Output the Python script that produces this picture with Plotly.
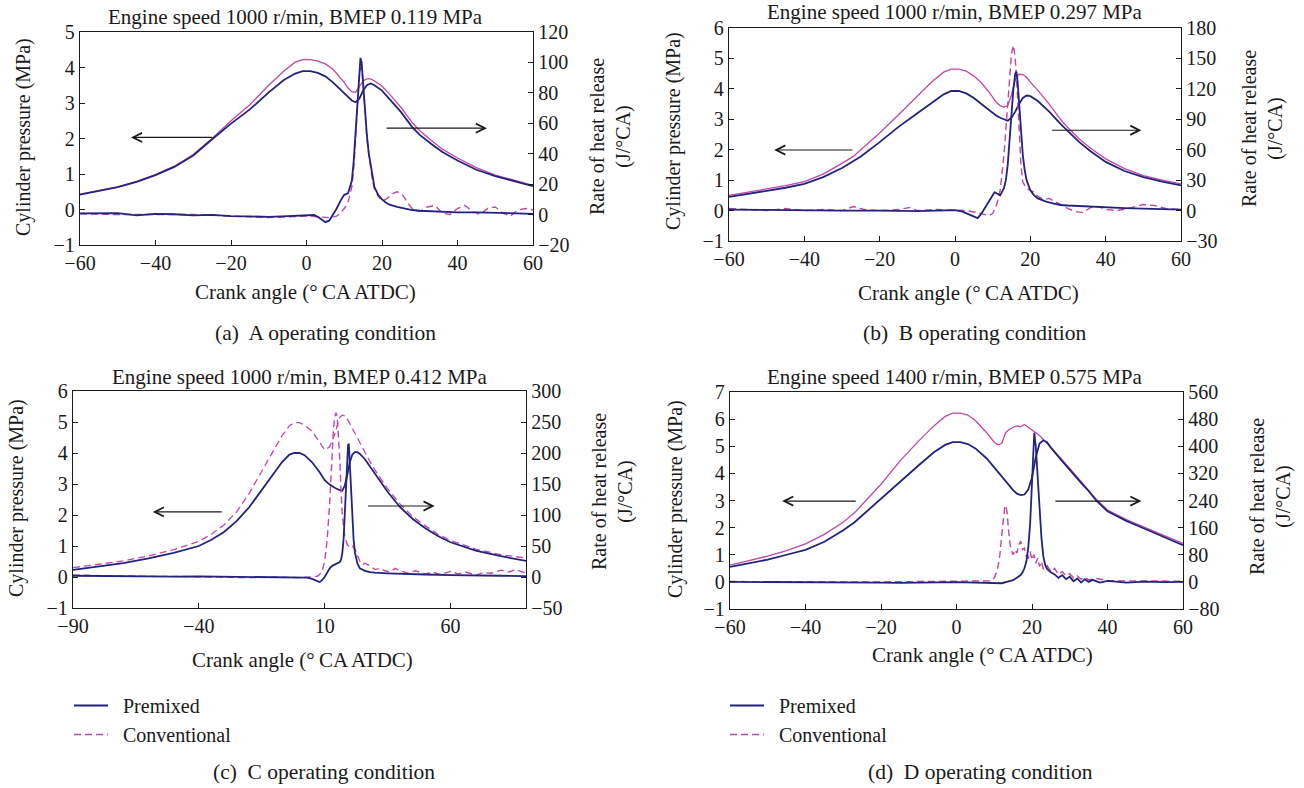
import plotly.graph_objects as go

# ---------------- Panel A : 1000 r/min, BMEP 0.119 MPa ----------------
A_p_x = [-60,-55,-50,-45,-40,-35,-30,-25,-20,-15,-10,-6,-3,-1,1,3,5,7,9,10,11,12,13,14,15,16,17,18,20,22,25,28,30,33,36,40,45,50,55,60]
A_p_prem = [0.42,0.52,0.63,0.78,0.97,1.2,1.52,1.98,2.42,2.82,3.3,3.65,3.83,3.9,3.9,3.85,3.75,3.58,3.37,3.27,3.16,3.07,3.02,3.12,3.35,3.5,3.55,3.5,3.35,3.12,2.75,2.32,2.1,1.85,1.62,1.38,1.12,0.94,0.8,0.66]
A_p_conv = [0.43,0.53,0.64,0.79,0.98,1.22,1.55,2.0,2.5,2.95,3.5,3.9,4.15,4.22,4.22,4.18,4.1,3.95,3.7,3.58,3.42,3.32,3.3,3.45,3.62,3.68,3.68,3.62,3.48,3.25,2.88,2.45,2.22,1.95,1.7,1.45,1.18,0.97,0.82,0.68]
A_h_prem_x = [-60,-50,-45,-40,-35,-30,-25,-20,-15,-10,-5,-2,0,2,3,4,5,6,7,8,9,10,11,12,12.5,13,13.5,14,14.3,14.6,15,15.5,16,16.5,17,17.5,18,19,20,21,22,24,26,28,30,35,40,45,50,55,60]
A_h_prem = [0.8,1.0,-0.5,0.5,0.2,-0.5,-0.2,-1.0,-1.2,-1.5,-1.0,-0.8,-0.5,-0.3,-1.5,-3.5,-5.0,-4.0,0,4,9,13,14,22,35,55,78,98,103,100,86,68,52,40,32,24,18,13,10,8,6.5,5,4,3,2.5,2,1.5,1.5,1.2,1,0.5]
A_h_conv_x = [-60,-50,-40,-30,-20,-15,-10,-5,0,3,6,8,9,10,11,12,12.5,13,13.5,14,14.4,14.8,15.2,15.6,16,16.5,17,17.5,18,19,20,21,22,23,24,25,26,27,28,30,32,34,36,38,40,42,44,46,48,50,52,54,56,58,60]
A_h_conv = [0.5,0,0,0,-1,-1.5,-2,-1.5,-1,-1.5,-2,-1,1,4,8,18,30,50,75,92,97,92,78,62,50,40,30,22,17,12,9,10,12,14,15,14,11,7,4,2,5,6,1,0,4,6,2,0,4,5,1,-1,3,4,3]

# ---------------- Panel B : 1000 r/min, BMEP 0.297 MPa ----------------
B_p_x = [-60,-55,-50,-45,-40,-35,-30,-27,-25,-20,-15,-10,-6,-3,-1,1,3,5,7,9,11,12,13,14,15,16,17,18,19,20,22,25,28,30,33,36,40,45,50,55,60]
B_p_prem = [0.45,0.55,0.65,0.75,0.88,1.1,1.4,1.62,1.78,2.25,2.75,3.2,3.55,3.82,3.93,3.93,3.85,3.7,3.5,3.3,3.12,3.05,3.0,2.95,3.05,3.25,3.5,3.7,3.78,3.76,3.6,3.25,2.85,2.6,2.25,1.95,1.6,1.3,1.1,0.95,0.83]
B_p_conv = [0.5,0.6,0.72,0.82,0.95,1.2,1.55,1.78,2.0,2.55,3.15,3.75,4.25,4.55,4.65,4.65,4.58,4.42,4.2,3.9,3.55,3.45,3.4,3.45,3.8,4.3,4.48,4.47,4.38,4.22,3.95,3.5,3.0,2.72,2.35,2.05,1.7,1.38,1.15,1.0,0.88]
B_h_prem_x = [-60,-50,-40,-30,-20,-10,-5,0,2,4,5,6,7,8,9,10,10.5,11,12,13,13.5,14,14.5,15,15.5,16,16.3,16.6,17,17.5,18,18.5,19,20,21,22,24,26,28,30,35,40,45,50,55,60]
B_h_prem = [1,0.5,0,0,0,-0.5,0,0.5,-1,-4,-6,-7.5,-3,3,9,16,18,17,15,22,30,45,70,95,120,135,137,128,105,78,55,40,30,20,15,12,9,7,5.5,5,4,3,2.5,2,1.5,1]
B_h_conv_x = [-60,-55,-50,-45,-40,-35,-30,-27,-24,-20,-15,-12,-10,-5,0,3,6,8,9,10,11,12,12.5,13,13.5,14,14.5,15,15.5,16,16.5,17,17.5,18,19,20,21,22,23,24,25,26,28,30,32,34,36,38,40,43,46,50,53,56,60]
B_h_conv = [2,1,0,2,0,1,0,4,1,0,1,3,0,1,0,0,-2,-4,-5,-3,5,20,35,55,80,108,135,155,163,150,120,80,45,28,22,20,18,14,12,11,12,10,6,2,-1,-2,3,4,1,0,2,6,5,2,1]

# ---------------- Panel C : 1000 r/min, BMEP 0.412 MPa ----------------
C_p_x = [-90,-80,-70,-60,-50,-40,-35,-30,-25,-20,-15,-10,-7,-4,-2,0,2,5,8,10,12,14,15,16,17,18,19,20,21,22,23,24,26,28,30,35,40,45,50,55,60,70,80,90]
C_p_prem = [0.23,0.33,0.45,0.6,0.78,1.0,1.2,1.45,1.8,2.25,2.8,3.35,3.7,3.95,4.0,4.0,3.93,3.7,3.38,3.12,2.98,2.88,2.83,2.8,2.78,2.95,3.3,3.7,3.95,4.03,4.03,3.97,3.8,3.57,3.33,2.75,2.25,1.87,1.57,1.32,1.12,0.85,0.67,0.52]
C_p_conv = [0.3,0.4,0.52,0.68,0.88,1.15,1.38,1.68,2.1,2.7,3.4,4.1,4.55,4.88,4.98,4.98,4.9,4.7,4.35,4.1,4.2,4.6,4.9,5.15,5.22,5.2,5.1,4.95,4.8,4.6,4.45,4.3,4.0,3.72,3.45,2.85,2.35,1.95,1.65,1.38,1.18,0.9,0.72,0.61]
C_h_prem_x = [-90,-80,-70,-60,-50,-40,-30,-20,-10,0,3,5,7,8,9,10,11,12,13,14,15,16,16.5,17,17.5,18,18.5,19,19.3,19.6,20,20.5,21,21.5,22,23,24,26,28,30,35,40,50,60,70,80,90]
C_h_prem = [2,1.5,1,1.5,0.5,1,0.5,0,-0.5,0,-1,-3,-6,-8,-5,0,7,14,18,20,22,24,28,38,60,100,150,195,213,215,180,130,90,60,40,22,14,10,8,7,6,5,4,3,3,2,1.5]
C_h_conv_x = [-90,-80,-70,-60,-50,-40,-30,-20,-10,0,4,7,8,9,10,11,12,12.5,13,13.5,14,14.5,15,15.5,16,16.5,17,18,19,20,21,22,23,24,25,26,28,30,32,34,36,38,40,43,46,50,53,56,60,63,66,70,73,76,80,83,86,90]
C_h_conv = [3,2,2,1,1,0,0,-1,0,-1,0,1,4,10,25,60,120,165,205,240,258,265,258,230,190,140,100,65,52,48,50,45,35,25,20,22,18,12,14,10,8,14,10,6,10,5,8,4,9,5,8,3,7,6,11,8,12,6]

# ---------------- Panel D : 1400 r/min, BMEP 0.575 MPa ----------------
D_p_x = [-60,-55,-50,-45,-40,-35,-30,-27,-25,-20,-15,-10,-6,-3,-1,1,3,5,8,10,11,12,13,14,15,16,17,18,19,20,21,22,23,24,25,28,30,33,35,37,40,45,50,55,60]
D_p_prem = [0.55,0.68,0.82,1.0,1.18,1.48,1.9,2.2,2.45,3.05,3.7,4.3,4.78,5.05,5.15,5.15,5.08,4.92,4.55,4.22,4.05,3.88,3.7,3.52,3.38,3.25,3.2,3.22,3.4,3.85,4.6,5.1,5.22,5.15,4.95,4.45,4.12,3.65,3.35,3.0,2.6,2.25,1.95,1.65,1.35]
D_p_conv = [0.62,0.78,0.95,1.15,1.4,1.75,2.2,2.55,2.85,3.6,4.45,5.2,5.75,6.1,6.22,6.22,6.15,5.95,5.5,5.15,5.05,5.1,5.5,5.62,5.7,5.75,5.72,5.8,5.7,5.6,5.5,5.4,5.25,5.1,4.98,4.5,4.18,3.7,3.4,3.05,2.65,2.3,2.0,1.7,1.42]
D_h_prem_x = [-60,-50,-40,-30,-20,-15,-10,-5,0,5,8,10,12,14,15,16,17,17.5,18,18.5,19,19.5,20,20.3,20.6,21,21.5,22,22.5,23,23.5,24,25,26,27,28,29,30,31,32,33,34,35,36,38,40,45,50,55,60]
D_h_prem = [0,0,-1,0,-2,-3,-2,-1,-1,-2,-3,-5,-4,2,5,12,20,28,40,60,100,170,280,380,440,400,310,210,130,75,50,38,28,22,12,20,8,15,2,10,-2,8,0,6,-2,3,-2,1,-1,0]
D_h_conv_x = [-60,-50,-40,-30,-20,-10,0,5,8,9,10,10.5,11,11.5,12,12.5,12.8,13.1,13.4,13.8,14.2,14.6,15,15.5,16,16.5,17,17.5,18,18.5,19,19.5,20,20.5,21,21.5,22,22.5,23,24,25,26,27,28,29,30,31,32,33,34,35,37,40,45,50,55,60]
D_h_conv = [1,0,1,0,0,1,2,1,1,3,12,25,45,80,140,200,222,225,205,150,110,90,80,95,85,110,120,95,100,75,70,90,65,80,55,70,45,60,38,48,30,40,22,30,18,24,12,18,8,14,6,10,4,3,2,3,2]

# ---------------- axis settings / text ----------------
titles = ["Engine speed 1000 r/min, BMEP 0.119 MPa",
          "Engine speed 1000 r/min, BMEP 0.297 MPa",
          "Engine speed 1000 r/min, BMEP 0.412 MPa",
          "Engine speed 1400 r/min, BMEP 0.575 MPa"]
captions = ["(a)  A operating condition", "(b)  B operating condition",
            "(c)  C operating condition", "(d)  D operating condition"]
x_ranges = [[-60, 60], [-60, 60], [-90, 90], [-60, 60]]
x_ticks = [[-60, -40, -20, 0, 20, 40, 60], [-60, -40, -20, 0, 20, 40, 60],
           [-90, -40, 10, 60], [-60, -40, -20, 0, 20, 40, 60]]
left_ranges = [[-1, 5], [-1, 6], [-1, 6], [-1, 7]]
left_dticks = [1, 1, 1, 1]
right_ranges = [[-20, 120], [-30, 180], [-50, 300], [-80, 560]]
right_dticks = [20, 30, 50, 80]

W, H = 1304, 788
def fx(p): return p / W
def fy(p): return 1 - p / H

# plot frames in page pixels (left, right, top, bottom)
frames = [(80, 533, 32, 245), (729, 1181, 28, 241), (73, 526, 391, 608), (730, 1183, 392, 609)]
title_pos = [(295, 17), (955, 12), (300, 377), (955, 377)]
xtitle_pos = [(305, 292), (968, 293), (302, 660), (982, 655)]
caption_pos = [(325, 333), (975, 333), (324, 772), (980, 772)]
ltitle_pos = [(23, 137), (673, 131), (17, 498), (675, 499)]
rtitle_pos = [(610, 137), (1263, 129), (612, 492), (1270, 497)]
legend_pos = [(69, 686), (725, 686)]
# arrows: (tail_x, head_x, y) in data units of x / left axis
arrows = [[(-24.6, -46.5, 2.03), (20.8, 47.8, 2.29)],
          [(-26.8, -48.0, 1.99), (25.4, 49.5, 2.64)],
          [(-30.3, -58.3, 2.10), (26.6, 53.7, 2.29)],
          [(-26.3, -46.2, 2.98), (25.8, 49.0, 2.98)]]

NAVY = "#22237e"
MAG = "#c446a6"
FONT = "Liberation Serif"
BLACK = "#1a1a1a"
NB = "\u00a0\u00a0"

data = [
    (A_p_x, A_p_prem, A_p_conv, A_h_prem_x, A_h_prem, A_h_conv_x, A_h_conv, "solid"),
    (B_p_x, B_p_prem, B_p_conv, B_h_prem_x, B_h_prem, B_h_conv_x, B_h_conv, "solid"),
    (C_p_x, C_p_prem, C_p_conv, C_h_prem_x, C_h_prem, C_h_conv_x, C_h_conv, "dash"),
    (D_p_x, D_p_prem, D_p_conv, D_h_prem_x, D_h_prem, D_h_conv_x, D_h_conv, "solid"),
]

DASH = "7px,4px"
fig = go.Figure()
layout = {}
annotations = []

for i in range(4):
    xa = "x" if i == 0 else f"x{i+1}"
    yl_n = 2 * i + 1
    yr_n = 2 * i + 2
    yl = "y" if yl_n == 1 else f"y{yl_n}"
    yr = f"y{yr_n}"
    L, R, T, B = frames[i]
    px_, pp, pc, hpx, hp, hcx, hc, conv_p_dash = data[i]
    leg = None
    if i == 2:
        leg = "legend"
    elif i == 3:
        leg = "legend2"

    fig.add_trace(go.Scatter(x=px_, y=pc, xaxis=xa, yaxis=yl, mode="lines",
                             line=dict(color=MAG, width=1.3, dash=(DASH if conv_p_dash == "dash" else "solid")),
                             showlegend=False, hoverinfo="skip"))
    fig.add_trace(go.Scatter(x=px_, y=pp, xaxis=xa, yaxis=yl, mode="lines",
                             line=dict(color=NAVY, width=1.8), showlegend=False, hoverinfo="skip"))
    fig.add_trace(go.Scatter(x=hcx, y=hc, xaxis=xa, yaxis=yr, mode="lines",
                             line=dict(color=MAG, width=1.4, dash=DASH),
                             name=NB + "Conventional", showlegend=leg is not None,
                             legend=leg if leg else "legend", legendrank=2, hoverinfo="skip"))
    fig.add_trace(go.Scatter(x=hpx, y=hp, xaxis=xa, yaxis=yr, mode="lines",
                             line=dict(color=NAVY, width=1.8),
                             name=NB + "Premixed", showlegend=leg is not None,
                             legend=leg if leg else "legend", legendrank=1, hoverinfo="skip"))

    xname = "xaxis" if i == 0 else f"xaxis{i+1}"
    ylname = "yaxis" if yl_n == 1 else f"yaxis{yl_n}"
    yrname = f"yaxis{yr_n}"
    common = dict(showgrid=False, zeroline=False, showline=True, linecolor=BLACK, linewidth=1.3,
                  ticks="inside", ticklen=5, tickwidth=1.2, tickcolor=BLACK, automargin=False,
                  tickfont=dict(family=FONT, size=20, color=BLACK))
    layout[xname] = dict(common, domain=[fx(L), fx(R)], range=x_ranges[i], tickvals=x_ticks[i],
                         anchor=yl, mirror=True)
    layout[ylname] = dict(common, domain=[fy(B), fy(T)], range=left_ranges[i], dtick=left_dticks[i],
                          tick0=0, anchor=xa)
    layout[yrname] = dict(common, domain=[fy(B), fy(T)], range=right_ranges[i], dtick=right_dticks[i],
                          tick0=0, anchor=xa, overlaying=yl, side="right")

    tf = dict(family=FONT, size=21, color=BLACK)
    annotations.append(dict(text=titles[i], x=fx(title_pos[i][0]), y=fy(title_pos[i][1]), xref="paper",
                            yref="paper", showarrow=False, font=tf, xanchor="center", yanchor="middle"))
    annotations.append(dict(text="Crank angle (°\u2009CA ATDC)", x=fx(xtitle_pos[i][0]), y=fy(xtitle_pos[i][1]),
                            xref="paper", yref="paper", showarrow=False, font=dict(tf, size=21),
                            xanchor="center", yanchor="middle"))
    annotations.append(dict(text=captions[i], x=fx(caption_pos[i][0]), y=fy(caption_pos[i][1]), xref="paper",
                            yref="paper", showarrow=False, font=dict(tf, size=21.5),
                            xanchor="center", yanchor="middle"))
    annotations.append(dict(text="Cylinder pressure (MPa)", x=fx(ltitle_pos[i][0]), y=fy(ltitle_pos[i][1]),
                            xref="paper", yref="paper", showarrow=False, font=dict(tf, size=20), textangle=-90,
                            xanchor="center", yanchor="middle"))
    annotations.append(dict(text="Rate of heat release<br>(J/°CA)", x=fx(rtitle_pos[i][0]), y=fy(rtitle_pos[i][1]),
                            xref="paper", yref="paper", showarrow=False, font=dict(tf, size=20), textangle=-90,
                            xanchor="center", yanchor="middle"))
    for (tx, hx, yv) in arrows[i]:
        annotations.append(dict(text="", x=hx, y=yv, ax=tx, ay=yv, xref=xa, yref=yl, axref=xa, ayref=yl,
                                showarrow=True, arrowhead=5, arrowsize=1.5, arrowwidth=1.2,
                                arrowcolor=BLACK))

legend_common = dict(font=dict(family=FONT, size=20, color=BLACK), bgcolor="rgba(0,0,0,0)",
                     itemwidth=34, tracegroupgap=0, xanchor="left", yanchor="top", traceorder="normal",
                     itemclick=False)
layout["legend"] = dict(legend_common, x=fx(legend_pos[0][0]), y=fy(legend_pos[0][1]))
layout["legend2"] = dict(legend_common, x=fx(legend_pos[1][0]), y=fy(legend_pos[1][1]))

fig.update_layout(**layout)
fig.update_layout(width=W, height=H, margin=dict(l=0, r=0, t=0, b=0, autoexpand=False),
                  paper_bgcolor="white", plot_bgcolor="white", annotations=annotations,
                  font=dict(family=FONT, color=BLACK), hovermode=False)
fig.write_html("out.html", config={"displayModeBar": False, "staticPlot": False},
               post_script="document.body.style.margin='0px';document.body.style.overflow='hidden';")
